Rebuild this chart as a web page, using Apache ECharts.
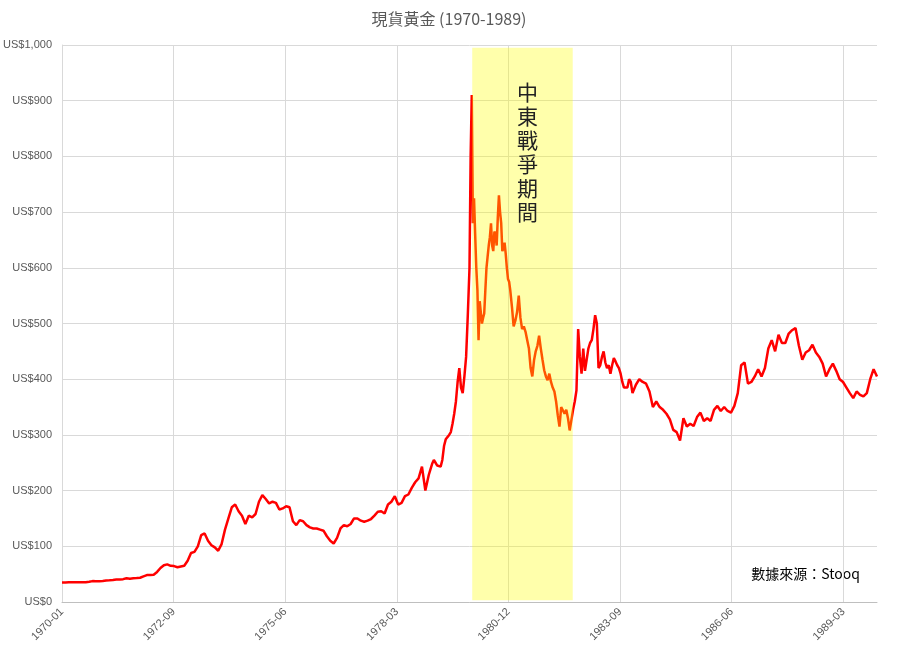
<!DOCTYPE html>
<html>
<head>
<meta charset="utf-8">
<title>現貨黃金 (1970-1989)</title>
<script src="https://cdn.jsdelivr.net/npm/echarts@6/dist/echarts.min.js"></script>
<style>
    html, body { margin: 0; padding: 0; background: #fff; }
    #chart { width: 898px; height: 646px; }
</style>
</head>
<body>
<div id="chart"></div>
<script>
// 每年的收盤價 (US$), 按年內均勻分佈
const gold1970 = [35.0, 35.0, 35.3, 35.6, 35.5, 35.3, 35.4, 35.4, 36.2, 37.5, 37.4, 37.4]
const gold1971 = [37.9, 38.8, 38.9, 39.6, 40.5, 40.2, 41.0, 42.7, 41.8, 42.6, 42.9, 43.6]
const gold1972 = [46, 48.3, 48.4, 49, 54, 61, 66, 67.5, 65, 64.5, 62.5, 63.8]
const gold1973 = [65, 74, 88, 90, 100, 120, 123, 110, 102, 98, 92, 104]
const gold1974 = [130, 150, 170, 175, 163, 155, 140, 155, 152, 158, 180, 192]
const gold1975 = [185, 177, 180, 178, 166, 168, 172, 170, 145, 138, 147, 145]
const gold1976 = [138, 134, 132, 132, 130, 128, 118, 110, 105, 115, 132, 138]
const gold1977 = [136, 140, 150, 150, 146, 144, 146, 149, 155, 162, 163, 159]
const gold1978 = [175, 180, 190, 175, 178, 190, 193, 205, 215, 222, 243, 200]
const gold1979 = [228, 238, 248, 255, 250, 245, 246, 243, 255, 280, 292, 290,
                  300, 305, 320, 338, 360, 395, 420, 385, 375, 405, 440, 515]
const gold1980 = [600, 800, 910, 680, 725, 660, 600, 560, 470, 540, 520, 500,
                  510, 518, 560, 600, 620, 640, 655, 680, 640, 630, 665, 660,
                  640, 690, 730, 700, 680, 630, 635, 645, 625, 600, 580, 575]
const gold1981 = [560, 530, 495, 505, 520, 550, 510, 490, 495, 485, 470, 455,
                  420, 405, 434, 450, 460, 478, 455, 435, 416, 405, 398, 410]
const gold1982 = [395, 385, 378, 360, 335, 315, 350, 350, 338, 345, 330, 308,
                  305, 345, 360, 380, 490, 440, 410, 455, 415, 435, 455, 465]
const gold1983 = [470, 490, 515, 500, 420, 425, 440, 450, 430, 420, 425, 410,
                  425, 438, 432, 425, 420, 410, 395, 385, 382, 385, 400, 395]
const gold1984 = [375, 390, 400, 395, 392, 378, 350, 360, 350, 345, 338, 328]
const gold1985 = [309, 305, 290, 330, 315, 320, 316, 332, 340, 325, 330, 325]
const gold1986 = [345, 352, 343, 350, 343, 340, 352, 375, 425, 430, 392, 395]
const gold1987 = [405, 418, 405, 420, 455, 470, 450, 480, 465, 465, 482, 488]
const gold1988 = [492, 460, 435, 448, 452, 462, 448, 440, 428, 405, 418, 428]
const gold1989 = [415, 400, 395, 385, 375, 366, 378, 372, 369, 375, 400, 418]
const lastClose = 405 // 1989 年底

const goldYears = [gold1970, gold1971, gold1972, gold1973, gold1974, gold1975, gold1976,
    gold1977, gold1978, gold1979, gold1980, gold1981, gold1982, gold1983, gold1984,
    gold1985, gold1986, gold1987, gold1988, gold1989]

// 中東戰爭期間 (以 1970-01 起算的月份)
const warStart = 120.8
const warEnd = 150.4
const warLabel = '中東戰爭期間'

const startYear = 1970
const totalMonths = 240
const labelStep = 32.87 // x 軸標籤間距 (月)

// 轉成 [月份, 價格]
let seriesData = []
goldYears.forEach((arr, y) => {
    arr.forEach((v, i) => {
        seriesData.push([y * 12 + i * 12 / arr.length, v])
    })
})
seriesData.push([totalMonths, lastClose])

function monthLabel(v) {
    let m = Math.floor(v + 1e-6)
    let yy = startYear + Math.floor(m / 12)
    let mm = m % 12 + 1
    return yy + '-' + (mm < 10 ? '0' + mm : mm)
}

const chart = echarts.init(document.getElementById('chart'))
const option = {
    animation: false,
    title: {
        text: '現貨黃金 (1970-1989)',
        left: 'center',
        top: 6,
        textStyle: {
            fontSize: 16,
            fontWeight: 'normal',
            color: '#595959',
            fontFamily: 'Noto Sans CJK TC'
        }
    },
    grid: { left: 62, right: 21, top: 45, bottom: 44, outerBoundsMode: 'none', containLabel: false },
    visualMap: {
        show: false,
        type: 'piecewise',
        dimension: 0,
        seriesIndex: 0,
        pieces: [{ gte: warStart, lte: warEnd, color: '#ff5500' }],
        outOfRange: { color: '#ff0000' }
    },
    xAxis: {
        type: 'value',
        min: 0,
        max: totalMonths,
        interval: labelStep,
        axisLine: { show: true, lineStyle: { color: '#bfbfbf' } },
        axisTick: { show: false },
        axisLabel: {
            rotate: 45,
            color: '#595959',
            fontSize: 11,
            fontFamily: 'Liberation Sans',
            margin: 8,
            showMaxLabel: false,
            formatter: monthLabel
        },
        splitLine: {
            show: true,
            showMaxLine: false,
            lineStyle: { color: '#d9d9d9' }
        }
    },
    yAxis: {
        type: 'value',
        min: 0,
        max: 1000,
        interval: 100,
        axisLine: { show: true, lineStyle: { color: '#d9d9d9' } },
        axisTick: { show: false },
        axisLabel: {
            color: '#595959',
            fontSize: 11,
            fontFamily: 'Liberation Sans',
            margin: 10,
            formatter: v => 'US$' + v.toLocaleString('en-US')
        },
        splitLine: { lineStyle: { color: '#d9d9d9' } }
    },
    series: [{
        name: '現貨黃金',
        type: 'line',
        data: seriesData,
        showSymbol: false,
        lineStyle: { width: 2.5 },
        markArea: {
            silent: true,
            itemStyle: { color: 'rgba(255,255,0,0.33)' },
            label: {
                show: true,
                position: 'insideTop',
                distance: 32,
                offset: [5, 0],
                formatter: warLabel.split('').join('\n'),
                fontSize: 21,
                lineHeight: 24,
                color: '#222',
                fontFamily: 'Noto Sans CJK TC'
            },
            data: [[{ coord: [warStart, 995] }, { coord: [warEnd, 3] }]]
        }
    }],
    graphic: [{
        type: 'text',
        right: 38,
        top: 567,
        style: {
            text: '數據來源：Stooq',
            fontSize: 14,
            fill: '#000',
            fontFamily: 'Noto Sans CJK TC'
        }
    }]
}
chart.setOption(option)
</script>
</body>
</html>
